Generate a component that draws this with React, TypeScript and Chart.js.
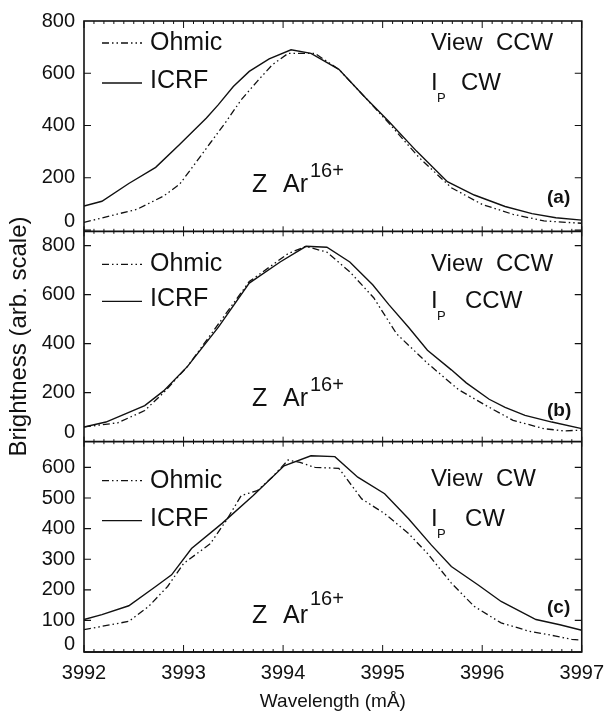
import React, { useEffect, useRef } from "react";
import { Chart, registerables } from "chart.js";

Chart.register(...registerables);

// ---------- data ----------
const xTicks = [3992, 3993, 3994, 3995, 3996, 3997];
const yTicksA = [0, 200, 400, 600, 800];
const yTicksB = [0, 200, 400, 600, 800];
const yTicksC = [0, 100, 200, 300, 400, 500, 600];

// panel (a)
const icrfA_x = [3992, 3992.18, 3992.45, 3992.72, 3992.96, 3993.23, 3993.35, 3993.5, 3993.66, 3993.86, 3994.08, 3994.28, 3994.56, 3994.83, 3995.06, 3995.34, 3995.65, 3995.92, 3996.23, 3996.5, 3996.74, 3997];
const icrfA_y = [92, 110, 178, 240, 327, 429, 480, 549, 607, 655, 690, 676, 615, 505, 416, 302, 185, 134, 90, 63, 47, 38];
const ohmicA_x = [3992, 3992.26, 3992.53, 3992.8, 3992.96, 3993.11, 3993.27, 3993.43, 3993.58, 3993.74, 3993.89, 3994.05, 3994.32, 3994.56, 3994.83, 3995.06, 3995.37, 3995.69, 3996, 3996.31, 3996.62, 3996.86, 3997];
const ohmicA_y = [29, 54, 79, 130, 175, 251, 334, 416, 499, 569, 632, 676, 676, 615, 505, 410, 276, 162, 98, 60, 35, 29, 26];

// panel (b)
const icrfB_x = [3992, 3992.22, 3992.61, 3992.8, 3993.04, 3993.35, 3993.66, 3993.97, 3994.23, 3994.44, 3994.67, 3994.9, 3995.06, 3995.26, 3995.45, 3995.69, 3995.84, 3996.07, 3996.23, 3996.43, 3996.7, 3997];
const icrfB_y = [60, 80, 147, 207, 307, 467, 647, 733, 797, 793, 733, 640, 560, 467, 373, 293, 240, 173, 140, 107, 80, 53];
const ohmicB_x = [3992, 3992.34, 3992.61, 3992.8, 3993.04, 3993.35, 3993.66, 3994.05, 3994.23, 3994.44, 3994.67, 3994.91, 3995.14, 3995.45, 3995.76, 3996.04, 3996.31, 3996.62, 3996.82, 3997];
const ohmicB_y = [60, 77, 127, 200, 307, 480, 653, 767, 797, 773, 693, 587, 440, 320, 213, 147, 87, 53, 44, 47];

// panel (c)
const icrfC_x = [3992, 3992.18, 3992.45, 3992.72, 3992.88, 3993.08, 3993.39, 3993.7, 3994.01, 3994.28, 3994.52, 3994.75, 3995.02, 3995.26, 3995.49, 3995.69, 3995.96, 3996.19, 3996.54, 3996.78, 3997];
const icrfC_y = [103, 119, 148, 211, 249, 335, 418, 508, 605, 638, 635, 568, 514, 432, 346, 276, 216, 162, 103, 86, 68];
const ohmicC_x = [3992, 3992.45, 3992.65, 3992.84, 3993, 3993.27, 3993.43, 3993.58, 3993.74, 3993.89, 3994.05, 3994.17, 3994.32, 3994.56, 3994.79, 3995.02, 3995.26, 3995.45, 3995.69, 3995.92, 3996.19, 3996.47, 3996.74, 3996.9, 3997];
const ohmicC_y = [70, 97, 146, 211, 286, 351, 427, 508, 524, 568, 624, 616, 600, 597, 497, 449, 384, 319, 222, 146, 92, 65, 49, 38, 36];

const seriesNames = ["Ohmic", "ICRF"];
const panelLabels = ["(a)", "(b)", "(c)"];
const viewTexts = ["View  CCW", "View  CCW", "View  CW"];
const ipTexts = ["CW", "CCW", "CW"];
const xTitle = "Wavelength (mÅ)";
const yTitle = "Brightness (arb. scale)";

// ---------- styling ----------
const FONT = '"Liberation Sans", Arial, Helvetica, sans-serif';
const INK = "#111";
const OHMIC_DASH = [7, 3, 1.5, 3, 1.5, 3];
const MINOR_STEP = 0.1;

const zip = (xs: number[], ys: number[]) => xs.map((x, i) => ({ x, y: ys[i] }));

const panelLayout = [
  { id: "ya", ticks: yTicksA, zeroOff: 9, ohmY: 22, icrfY: 62, viewY: 22, ipY: 62, zY: 164, supY: 150, labY: 177, ipX: 461 },
  { id: "yb", ticks: yTicksB, zeroOff: 9, ohmY: 33, icrfY: 70, viewY: 33, ipY: 70, zY: 168, supY: 154, labY: 179, ipX: 465 },
  { id: "yc", ticks: yTicksC, zeroOff: 7, ohmY: 39, icrfY: 79, viewY: 38, ipY: 78, zY: 174, supY: 158, labY: 166, ipX: 465 },
];

const decorPlugin = {
  id: "decor",
  afterDraw(chart: any) {
    const ctx: CanvasRenderingContext2D = chart.ctx;
    const { left, right, top, bottom } = chart.chartArea;
    const xs = chart.scales.x;
    ctx.save();
    ctx.strokeStyle = INK;
    ctx.fillStyle = INK;
    ctx.lineWidth = 1.6;
    ctx.strokeRect(left, top, right - left, bottom - top);

    // panel boundaries + y ticks + zero labels
    const bounds: number[] = [top];
    panelLayout.forEach((p) => {
      const s = chart.scales[p.id];
      bounds.push(s.bottom);
      ctx.lineWidth = 1.6;
      ctx.beginPath();
      ctx.moveTo(left, s.bottom);
      ctx.lineTo(right, s.bottom);
      ctx.stroke();
      ctx.lineWidth = 1.2;
      p.ticks.forEach((v) => {
        const y = s.getPixelForValue(v);
        if (y < s.top + 1 || y > s.bottom - 1) return;
        ctx.beginPath();
        ctx.moveTo(left, y);
        ctx.lineTo(left + 7, y);
        ctx.moveTo(right, y);
        ctx.lineTo(right - 7, y);
        ctx.stroke();
      });
      ctx.font = `20px ${FONT}`;
      ctx.textAlign = "right";
      ctx.textBaseline = "middle";
      ctx.fillText("0", left - 9, s.getPixelForValue(0) - p.zeroOff);
    });

    // x ticks on every horizontal line
    ctx.lineWidth = 1;
    const x0 = xTicks[0];
    const n = Math.round((xTicks[xTicks.length - 1] - x0) / MINOR_STEP);
    bounds.forEach((by, bi) => {
      for (let i = 0; i <= n; i++) {
        const v = x0 + i * MINOR_STEP;
        const px = xs.getPixelForValue(v);
        const major = i % 10 === 0;
        let up = 0, down = 0;
        if (bi === 0) { down = major ? 7 : 3; }
        else if (bi === bounds.length - 1) { up = major ? 7 : 3; }
        else { up = major ? 5 : 2.5; down = major ? 5 : 2.5; }
        ctx.beginPath();
        ctx.moveTo(px, by - up);
        ctx.lineTo(px, by + down);
        ctx.stroke();
      }
    });

    // texts
    ctx.textBaseline = "middle";
    ctx.textAlign = "left";
    panelLayout.forEach((p, i) => {
      const s = chart.scales[p.id];
      const t = s.top;
      ctx.lineWidth = 1.3;
      ctx.setLineDash(OHMIC_DASH);
      ctx.beginPath();
      ctx.moveTo(102, t + p.ohmY);
      ctx.lineTo(142, t + p.ohmY);
      ctx.stroke();
      ctx.setLineDash([]);
      ctx.beginPath();
      ctx.moveTo(102, t + p.icrfY);
      ctx.lineTo(142, t + p.icrfY);
      ctx.stroke();
      ctx.font = `25px ${FONT}`;
      ctx.fillText(seriesNames[0], 150, t + p.ohmY);
      ctx.fillText(seriesNames[1], 150, t + p.icrfY - 2);
      ctx.font = `24px ${FONT}`;
      ctx.fillText(viewTexts[i], 431, t + p.viewY);
      ctx.fillText("I", 431, t + p.ipY);
      ctx.fillText(ipTexts[i], p.ipX, t + p.ipY);
      ctx.font = `13px ${FONT}`;
      ctx.fillText("P", 437, t + p.ipY + 15);
      ctx.font = `25px ${FONT}`;
      ctx.fillText("Z", 252, t + p.zY);
      ctx.fillText("Ar", 283, t + p.zY);
      const arW = ctx.measureText("Ar").width;
      ctx.font = `20px ${FONT}`;
      ctx.fillText("16+", 283 + arW + 2, t + p.supY);
      ctx.font = `bold 19px ${FONT}`;
      ctx.fillText(panelLabels[i], 547, t + p.labY);
    });
    ctx.restore();
  },
};

export default function App() {
  const ref = useRef<HTMLCanvasElement | null>(null);
  useEffect(() => {
    if (!ref.current) return;
    const lineDs = (label: string, data: any[], axis: string, dashed: boolean) => ({
      label,
      data,
      yAxisID: axis,
      borderColor: INK,
      borderWidth: dashed ? 1.3 : 1.4,
      borderDash: dashed ? OHMIC_DASH : [],
      pointRadius: 0,
      tension: 0,
      fill: false,
    });
    const yScale = (ticks: number[], min: number, max: number, withTitle: boolean) => ({
      type: "linear" as const,
      position: "left" as const,
      stack: "panels",
      stackWeight: 1,
      min,
      max,
      grid: { display: false, drawTicks: false },
      border: { display: false },
      afterBuildTicks: (s: any) => { s.ticks = ticks.map((v) => ({ value: v })); },
      afterFit: (s: any) => { s.width = 84; },
      ticks: {
        color: INK,
        font: { family: FONT, size: 20 },
        padding: 9,
        autoSkip: false,
        callback: (v: any) => (v === 0 ? "" : String(v)),
      },
      title: {
        display: withTitle,
        text: yTitle,
        color: INK,
        font: { family: FONT, size: 24 },
        padding: { top: 5, bottom: 0 },
      },
    });
    const chart = new Chart(ref.current, {
      type: "line",
      data: {
        datasets: [
          lineDs(seriesNames[0], zip(ohmicA_x, ohmicA_y), "ya", true),
          lineDs(seriesNames[1], zip(icrfA_x, icrfA_y), "ya", false),
          lineDs(seriesNames[0], zip(ohmicB_x, ohmicB_y), "yb", true),
          lineDs(seriesNames[1], zip(icrfB_x, icrfB_y), "yb", false),
          lineDs(seriesNames[0], zip(ohmicC_x, ohmicC_y), "yc", true),
          lineDs(seriesNames[1], zip(icrfC_x, icrfC_y), "yc", false),
        ],
      },
      options: {
        animation: false,
        responsive: true,
        maintainAspectRatio: false,
        layout: { padding: { top: 11, right: 28, left: 0, bottom: 0 } },
        plugins: { legend: { display: false }, tooltip: { enabled: false } },
        scales: {
          x: {
            type: "linear",
            min: xTicks[0],
            max: xTicks[xTicks.length - 1],
            grid: { display: false, drawTicks: false },
            border: { display: false },
            afterBuildTicks: (s: any) => { s.ticks = xTicks.map((v) => ({ value: v })); },
            afterFit: (s: any) => { s.height = 61; },
            ticks: {
              color: INK,
              font: { family: FONT, size: 20 },
              padding: 9,
              maxRotation: 0,
              autoSkip: false,
              callback: (v: any) => String(v),
            },
            title: {
              display: true,
              text: xTitle,
              color: INK,
              font: { family: FONT, size: 19 },
              padding: { top: 4, bottom: 0 },
            },
          },
          yc: yScale(yTicksC, -3, 684, false),
          yb: yScale(yTicksB, 0, 858, true),
          ya: yScale(yTicksA, -5, 800, false),
        } as any,
      },
      plugins: [decorPlugin],
    } as any);
    return () => chart.destroy();
  }, []);
  return (
    <div style={{ position: "absolute", left: 0, top: 0, width: 613, height: 713, background: "#fff" }}>
      <canvas ref={ref} />
    </div>
  );
}
